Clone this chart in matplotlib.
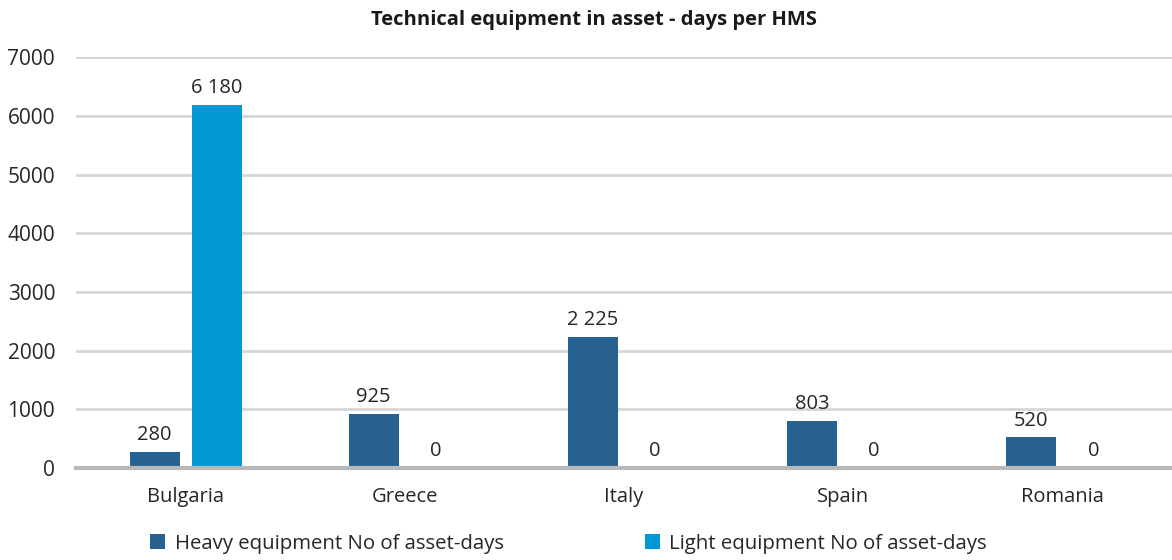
import matplotlib.pyplot as plt
import numpy as np

categories = ["Bulgaria", "Greece", "Italy", "Spain", "Romania"]
heavy = [280, 925, 2225, 803, 520]
light = [6180, 0, 0, 0, 0]
series_names = ["Heavy equipment No of asset-days", "Light equipment No of asset-days"]
y_ticks = [0, 1000, 2000, 3000, 4000, 5000, 6000, 7000]

plt.rcParams['font.family'] = ['Open Sans', 'DejaVu Sans']


def fmt(v):
    return f"{v:,}".replace(",", " ")


fig = plt.figure(figsize=(11.72, 5.6), dpi=100)
ax = fig.add_axes([0.0648, 0.1643, 0.9352, 0.7337])

x = np.arange(len(categories))
w = 0.228
off = 0.1415
b1 = ax.bar(x - off, heavy, w, color="#27618f", label=series_names[0], zorder=3)
b2 = ax.bar(x + off, light, w, color="#0099d6", label=series_names[1], zorder=3)

for bars, vals in ((b1, heavy), (b2, light)):
    for rect, v in zip(bars, vals):
        ax.annotate(fmt(v), (rect.get_x() + rect.get_width() / 2, v),
                    xytext=(0, 5), textcoords="offset points",
                    ha="center", va="bottom", fontsize=14.5, color="#262626")

ax.set_xlim(-0.5, len(categories) - 0.5)
ax.set_ylim(0, 7000)
ax.set_yticks(y_ticks)
ax.set_yticklabels([str(t) for t in y_ticks], fontsize=15, color="#262626")
ax.set_xticks(x)
ax.set_xticklabels(categories, fontsize=14.5, color="#262626")
ax.tick_params(axis="both", length=0)
ax.tick_params(axis="y", pad=15)
ax.tick_params(axis="x", pad=14)
ax.yaxis.grid(True, color="#d6d6d6", linewidth=2, zorder=0)
ax.set_axisbelow(True)
for s in ["top", "right", "left"]:
    ax.spines[s].set_visible(False)
ax.spines["bottom"].set_color("#b8b8b8")
ax.spines["bottom"].set_linewidth(3)
ax.spines["bottom"].set_zorder(4)

fig.suptitle("Technical equipment in asset - days per HMS", x=0.507, y=0.982,
             fontsize=14.5, fontweight="bold", color="#1a1a1a")

fig.legend(loc="center", bbox_to_anchor=(0.485, 0.029), ncol=2, frameon=False,
           fontsize=14.7, handlelength=0.75, handleheight=0.75, handletextpad=0.45,
           columnspacing=6.9, labelcolor="#262626")

fig.savefig("out.png", dpi=100)
